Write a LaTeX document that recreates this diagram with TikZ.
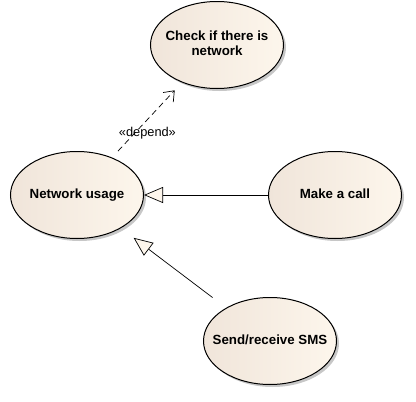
\documentclass[tikz,border=0pt]{standalone}
\usepackage{fontspec}
\setmainfont{Liberation Sans}
\usetikzlibrary{arrows.meta,shapes.geometric,shadows}
\definecolor{casedark}{HTML}{F0E5DA}
\definecolor{caselight}{HTML}{FDF6EC}
\newcommand{\casetext}[1]{\makebox[0pt]{\begin{tabular}{@{}c@{}}#1\end{tabular}}}

\begin{document}
\begin{tikzpicture}[
    x=1pt, y=-1pt,
    usecase/.style={ellipse, draw, line width=1pt, minimum width=133pt, minimum height=87pt,
        inner sep=0pt, left color=casedark, right color=caselight,
        font=\fontsize{13.3}{15.5}\selectfont\bfseries,
        drop shadow={shadow xshift=2.5pt, shadow yshift=-2.5pt, fill=black!40, opacity=.55}},
    generalize/.style={line width=0.7pt, -{Triangle[open, fill=caselight, length=19pt, width=16pt]}},
    depend/.style={line width=0.7pt, dashed, dash pattern=on 6pt off 4pt, -{Straight Barb[length=9pt, width=14pt]}}
]
\useasboundingbox (0,0) rectangle (416,402);

\node[usecase] (check) at (217,45) {\casetext{Check if there is\\network}};
\node[usecase] (usage) at (77,195) {\casetext{Network usage}};
\node[usecase] (call) at (335,195) {\casetext{Make a call}};
\node[usecase] (sms) at (270,341) {\casetext{Send/receive SMS}};

\draw[generalize] (call.west) -- (usage.east);
\draw[generalize, shorten <=72pt, shorten >=71pt] (sms.center) -- (usage.center);
\draw[depend, shorten <=60pt, shorten >=62pt] (usage.center) -- (check.center)
    node[pos=.41, xshift=13pt, font=\fontsize{12.8}{15}\selectfont] {«depend»};

\end{tikzpicture}
\end{document}
